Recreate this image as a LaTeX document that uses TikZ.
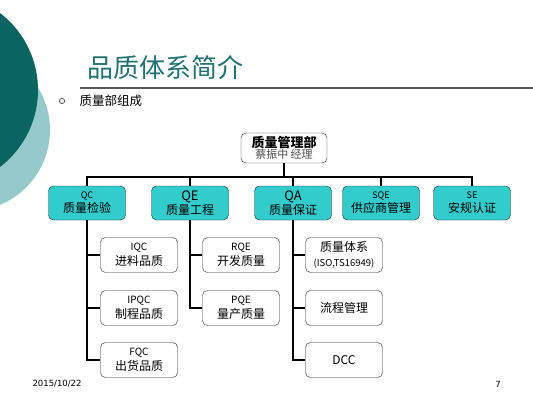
\documentclass[tikz,border=0pt]{standalone}
\usepackage{fontspec}
\setmainfont{Liberation Sans}
\newfontfamily\cjk{Noto Sans CJK SC}
\newfontfamily\footfont{DejaVu Sans}
\definecolor{darkteal}{RGB}{10,100,97}
\definecolor{paleteal}{RGB}{150,202,202}
\definecolor{titleteal}{RGB}{35,112,112}
\definecolor{boxcyan}{RGB}{51,204,204}
\begin{document}
\begin{tikzpicture}[x=1pt,y=-1pt,
  conn/.style={black, line width=1.5pt},
  headbox/.style={draw=black!85, fill=white, rounded corners=5pt, minimum width=86pt, minimum height=30pt, inner sep=1pt, align=center},
  deptbox/.style={draw=black!85, fill=boxcyan, rounded corners=5pt, minimum width=77pt, minimum height=34pt, inner sep=1pt, align=center, font=\cjk\fontsize{12}{14}\selectfont},
  subbox/.style={draw=black!85, fill=white, rounded corners=5pt, minimum width=77pt, minimum height=35pt, inner sep=1pt, align=center, font=\cjk\fontsize{12}{15}\selectfont}]
\useasboundingbox (0,0) rectangle (533,400);

% background circles
\begin{scope}
\clip (0,0) rectangle (533,400);
\fill[paleteal] (-31,130) circle[radius=81];
\fill[darkteal] (-59,90) circle[radius=97];
\end{scope}

% title
\node[anchor=west, text=titleteal, font=\cjk\fontsize{26}{30}\selectfont] (title) at (84,68) {品质体系简介};
\draw[black!65, line width=1.2pt] (80,88) -- (533,88);
\draw[black!80, line width=0.6pt] (62,101) circle[radius=2.6];
\node[anchor=west, font=\cjk\fontsize{12.5}{14}\selectfont] (sub) at (76,101) {质量部组成};

% head
\node[headbox] (head) at (284,148) {{\cjk\fontsize{13}{15}\selectfont\bfseries 质量管理部}\\[-1pt]{\cjk\fontsize{11}{12}\selectfont\color{black!70} 蔡振中\ 经理}};

% departments
\node[deptbox] (qc) at (87,203) {{\fontsize{9}{11}\selectfont QC}\\质量检验};
\node[deptbox] (qe) at (190,203) {{\fontsize{13}{14}\selectfont QE}\\质量工程};
\node[deptbox] (qa) at (293,203) {{\fontsize{13}{14}\selectfont QA}\\质量保证};
\node[deptbox] (sqe) at (381,203) {{\fontsize{9}{11}\selectfont SQE}\\供应商管理};
\node[deptbox] (se) at (472,203) {{\fontsize{9}{11}\selectfont SE}\\安规认证};

\coordinate (bus) at (284,177);
\draw[conn] (head.south) -- (bus);
\draw[conn] (qc.north) |- (bus);
\draw[conn] (se.north) |- (bus);
\draw[conn] (qe.north) -- (qe.north |- bus);
\draw[conn] (qa.north) -- (qa.north |- bus);
\draw[conn] (sqe.north) -- (sqe.north |- bus);

% QC group
\node[subbox] (iqc) at (139,255) {{\fontsize{10}{12}\selectfont IQC}\\进料品质};
\node[subbox] (ipqc) at (139,308) {{\fontsize{10}{12}\selectfont IPQC}\\制程品质};
\node[subbox] (fqc) at (139,360) {{\fontsize{10}{12}\selectfont FQC}\\出货品质};
\draw[conn] (qc.south) |- (iqc.west);
\draw[conn] (qc.south) |- (ipqc.west);
\draw[conn] (qc.south) |- (fqc.west);

% QE group
\node[subbox] (rqe) at (241,255) {{\fontsize{10}{12}\selectfont RQE}\\开发质量};
\node[subbox] (pqe) at (241,308) {{\fontsize{10}{12}\selectfont PQE}\\量产质量};
\draw[conn] (qe.south) |- (rqe.west);
\draw[conn] (qe.south) |- (pqe.west);

% QA group
\node[subbox] (qsys) at (344,255) {质量体系\\{\fontsize{9.5}{12}\selectfont (ISO,TS16949)}};
\node[subbox] (flow) at (344,308) {流程管理};
\node[subbox] (dcc) at (344,360) {\fontsize{12}{14}\selectfont DCC};
\draw[conn] (qa.south) |- (qsys.west);
\draw[conn] (qa.south) |- (flow.west);
\draw[conn] (qa.south) |- (dcc.west);

% footer
\node[anchor=west, font=\footfont\fontsize{8.5}{10}\selectfont] (date) at (29,384) {2015/10/22};
\node[font=\footfont\fontsize{8.5}{10}\selectfont] (page) at (498,384) {7};
\end{tikzpicture}
\end{document}
